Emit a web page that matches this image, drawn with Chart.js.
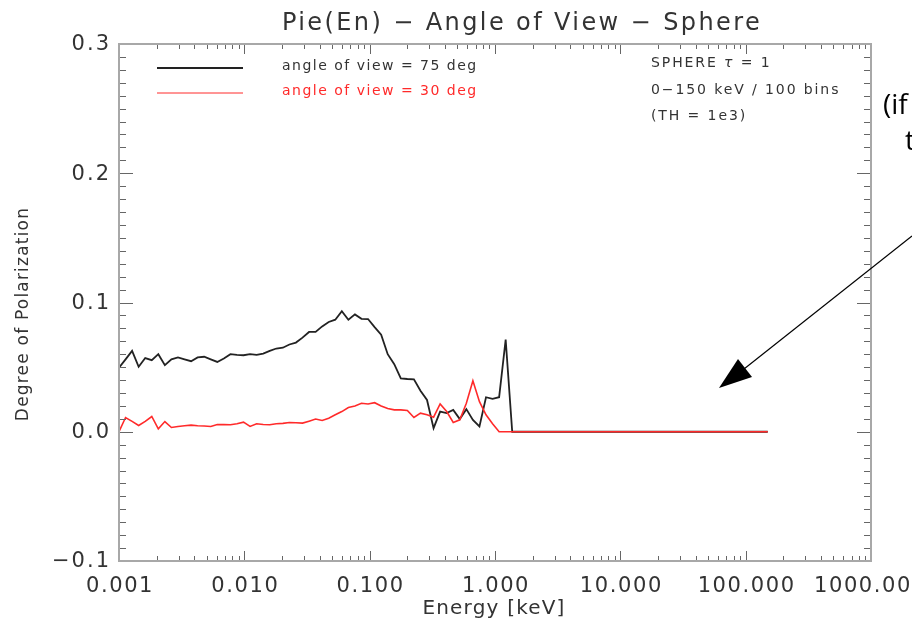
<!DOCTYPE html>
<html>
<head>
<meta charset="utf-8">
<script src="https://cdn.jsdelivr.net/npm/chart.js@4.4.1/dist/chart.umd.min.js"></script>
<style>
  html, body { margin: 0; padding: 0; background: #fff; }
</style>
</head>
<body>
<canvas id="chart" width="912" height="625"></canvas>
<script>
// log-spaced energy bins (keV); last point is the 150 keV end
const energy = [
  0.001000, 0.001128, 0.001272, 0.001435, 0.001619, 0.001826, 0.002059, 0.002323, 0.002620, 0.002955,
  0.003334, 0.003760, 0.004241, 0.004784, 0.005396, 0.006086, 0.006865, 0.007744, 0.008734, 0.009852,
  0.01111, 0.01253, 0.01414, 0.01595, 0.01799, 0.02029, 0.02289, 0.02581, 0.02912, 0.03284,
  0.03704, 0.04178, 0.04713, 0.05316, 0.05996, 0.06764, 0.07629, 0.08605, 0.09706, 0.1095,
  0.1235, 0.1393, 0.1571, 0.1772, 0.1999, 0.2255, 0.2543, 0.2868, 0.3235, 0.3649,
  0.4116, 0.4643, 0.5237, 0.5907, 0.6663, 0.7516, 0.8477, 0.9562, 1.0785, 1.2165,
  1.3721, 1.5477, 1.7457, 150
]
const pol75 = [
  0.0495, 0.056, 0.0626, 0.0503, 0.057, 0.0554, 0.060, 0.0515, 0.056, 0.0575,
  0.056, 0.0546, 0.0575, 0.058, 0.056, 0.054, 0.0567, 0.060, 0.0595, 0.0592,
  0.060, 0.0595, 0.0605, 0.0626, 0.0644, 0.065, 0.0675, 0.069, 0.0728, 0.0772,
  0.0772, 0.0815, 0.0849, 0.0867, 0.0933, 0.0867, 0.0908, 0.0874, 0.0872, 0.081,
  0.0751, 0.060, 0.0523, 0.0413, 0.0408, 0.0405, 0.0318, 0.0246, 0.0028, 0.0156,
  0.0144, 0.0169, 0.0098, 0.0175, 0.0092, 0.0041, 0.0267, 0.0254, 0.0267, 0.0713,
  0, 0, 0, 0
]
const pol30 = [
  0.0, 0.011, 0.008, 0.0048, 0.008, 0.0118, 0.0023, 0.0079, 0.0033, 0.0041,
  0.0046, 0.0051, 0.0046, 0.0044, 0.0041, 0.0056, 0.0055, 0.0054, 0.0062, 0.0074,
  0.0041, 0.0062, 0.0056, 0.0054, 0.0062, 0.0065, 0.0072, 0.007, 0.0067, 0.0082,
  0.0098, 0.0087, 0.0105, 0.0131, 0.0156, 0.0187, 0.020, 0.022, 0.0215, 0.0225,
  0.020, 0.018, 0.0169, 0.0169, 0.0164, 0.011, 0.0144, 0.0131, 0.0113, 0.0215,
  0.0156, 0.0072, 0.0092, 0.022, 0.0395, 0.0233, 0.0131, 0.0062, 0, 0,
  0, 0, 0, 0
]
const seriesNames = ['angle of view = 75 deg', 'angle of view = 30 deg']
const seriesColors = ['#222222', '#ff2a2a']
const xTicks = [0.001, 0.01, 0.1, 1, 10, 100, 1000]
const xTickLabels = ['0.001', '0.010', '0.100', '1.000', '10.000', '100.000', '1000.00']
const yTicks = [-0.1, 0, 0.1, 0.2, 0.3]
const yTickLabels = ['\u22120.1', '0.0', '0.1', '0.2', '0.3']
const noteLines = ['0\u2212150 keV / 100 bins', '(TH = 1e3)']

const toPoints = vals => vals.map((v, i) => ({ x: energy[i], y: v }))

const FONT = '"DejaVu Sans", sans-serif'
const TXT = '#333'

// IDL-style frame, inward ticks, labels and annotations
const decor = {
  id: 'decor',
  afterDraw (chart) {
    const ctx = chart.ctx
    const a = chart.chartArea
    const x = chart.scales.x
    const y = chart.scales.y
    ctx.save()

    // tick marks
    ctx.strokeStyle = '#666'
    ctx.lineWidth = 1
    ctx.beginPath()
    for (let k = -3; k < 3; k++) {
      for (let m = 1; m < 10; m++) {
        if (k === -3 && m === 1) continue
        const px = Math.round(x.getPixelForValue(m * Math.pow(10, k))) + 0.5
        const len = m === 1 ? 10 : 5
        ctx.moveTo(px, a.bottom); ctx.lineTo(px, a.bottom - len)
        ctx.moveTo(px, a.top); ctx.lineTo(px, a.top + len)
      }
    }
    for (let i = 1; i < 40; i++) {
      const py = Math.round(y.getPixelForValue(-0.1 + i * 0.01)) + 0.5
      const len = i % 10 === 0 ? 14 : 7
      ctx.moveTo(a.left, py); ctx.lineTo(a.left + len, py)
      ctx.moveTo(a.right, py); ctx.lineTo(a.right - len, py)
    }
    ctx.stroke()

    // frame
    ctx.strokeStyle = '#a8a8a8'
    ctx.lineWidth = 2
    ctx.strokeRect(a.left, a.top, a.right - a.left, a.bottom - a.top)

    // tick labels
    ctx.fillStyle = TXT
    ctx.font = '21px ' + FONT
    ctx.letterSpacing = '1.6px'
    ctx.textBaseline = 'alphabetic'
    xTicks.forEach((v, i) => {
      const last = i === xTicks.length - 1
      ctx.textAlign = last ? 'right' : 'center'
      ctx.fillText(xTickLabels[i], last ? 912 : x.getPixelForValue(v) + 1, 592)
    })
    ctx.letterSpacing = '2px'
    ctx.textAlign = 'right'
    ctx.textBaseline = 'middle'
    yTicks.forEach((v, i) => {
      ctx.fillText(yTickLabels[i], 111, y.getPixelForValue(v) + 1)
    })

    // titles
    ctx.textAlign = 'center'
    ctx.textBaseline = 'alphabetic'
    ctx.font = '24px ' + FONT
    ctx.letterSpacing = '2.4px'
    ctx.fillText('Pie(En) \u2212 Angle of View \u2212 Sphere', 522, 30)
    ctx.font = '20px ' + FONT
    ctx.letterSpacing = '1.2px'
    ctx.fillText('Energy [keV]', 494, 614)
    ctx.save()
    ctx.translate(28, 314)
    ctx.rotate(-Math.PI / 2)
    ctx.font = '17px ' + FONT
    ctx.letterSpacing = '1.2px'
    ctx.fillText('Degree of Polarization', 0, 0)
    ctx.restore()

    // legend
    ctx.font = '14px ' + FONT
    ctx.textAlign = 'left'
    ctx.textBaseline = 'middle'
    ctx.letterSpacing = '1.5px'
    seriesNames.forEach((name, i) => {
      const ly = 68 + i * 25
      ctx.strokeStyle = seriesColors[i]
      ctx.lineWidth = i === 0 ? 2 : 1
      ctx.beginPath(); ctx.moveTo(157, ly); ctx.lineTo(243, ly); ctx.stroke()
      ctx.fillStyle = i === 0 ? TXT : '#ff2a2a'
      ctx.fillText(name, 282, ly - 2)
    })

    // notes
    ctx.fillStyle = TXT
    ctx.letterSpacing = '1.9px'
    let nx = 651
    ctx.fillText('SPHERE ', nx, 63)
    nx += ctx.measureText('SPHERE ').width
    ctx.font = 'italic 14px ' + FONT
    ctx.fillText('\u03c4', nx, 63)
    nx += ctx.measureText('\u03c4').width
    ctx.font = '14px ' + FONT
    ctx.fillText(' = 1', nx, 63)
    noteLines.forEach((t, i) => ctx.fillText(t, 651, 90 + i * 26))
    ctx.letterSpacing = '0px'

    // slide overlay text and arrow
    ctx.fillStyle = '#000'
    ctx.font = '28px "Open Sans", sans-serif'
    ctx.textBaseline = 'alphabetic'
    ctx.fillText('(if', 883, 114)
    ctx.fillText('t', 905, 150)

    ctx.strokeStyle = '#000'
    ctx.lineWidth = 1.2
    ctx.beginPath(); ctx.moveTo(912, 236); ctx.lineTo(744, 369); ctx.stroke()
    ctx.fillStyle = '#000'
    ctx.beginPath()
    ctx.moveTo(719, 388); ctx.lineTo(738, 359); ctx.lineTo(752, 377)
    ctx.closePath(); ctx.fill()

    ctx.restore()
  }
}

new Chart(document.getElementById('chart'), {
  type: 'line',
  data: {
    datasets: [
      { label: seriesNames[0], data: toPoints(pol75), borderColor: seriesColors[0], borderWidth: 1.8, order: 2 },
      { label: seriesNames[1], data: toPoints(pol30), borderColor: seriesColors[1], borderWidth: 1.6, order: 1 }
    ]
  },
  options: {
    responsive: false,
    animation: false,
    devicePixelRatio: 1,
    layout: { padding: { left: 119, top: 44, right: 41, bottom: 64 } },
    elements: { point: { radius: 0 }, line: { tension: 0 } },
    plugins: { legend: { display: false }, tooltip: { enabled: false } },
    scales: {
      x: { type: 'logarithmic', min: 0.001, max: 1000, display: false },
      y: { type: 'linear', min: -0.1, max: 0.3, display: false }
    }
  },
  plugins: [decor]
})
</script>
</body>
</html>
